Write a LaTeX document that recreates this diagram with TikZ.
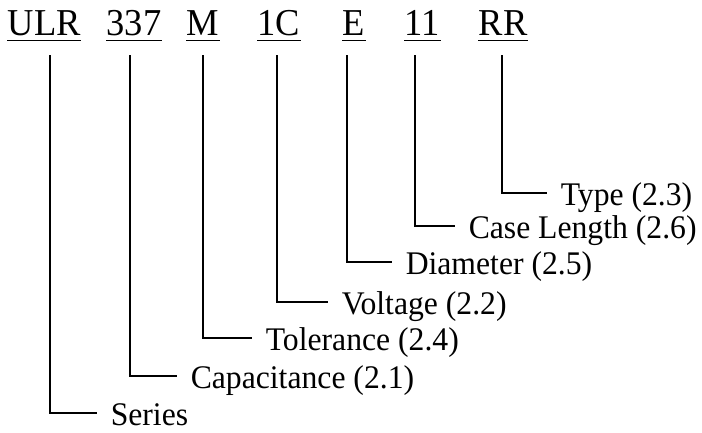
\documentclass[tikz,border=0pt]{standalone}
\usepackage{fontspec}
\setmainfont[FakeStretch=0.96]{Liberation Serif}
\begin{document}
\begin{tikzpicture}
[-,line width=1.5pt,x=1pt,y=1pt,%
  code/.style={anchor=base west,inner sep=0pt,text depth=4.5pt,font=\fontsize{38}{40}\selectfont},%
  field/.style={anchor=west,inner xsep=13pt,inner ysep=0pt,text height=24pt,text depth=0pt,font=\fontsize{33}{36}\selectfont}]
\useasboundingbox (0,0) rectangle (702,-432);
% part number
\node[code] (ulr) at (7,-35) {ULR};
\node[code] (cap) at (106,-35) {337};
\node[code] (tol) at (186,-35) {M};
\node[code] (volt) at (257,-35) {1C};
\node[code] (diam) at (342,-35) {E};
\node[code] (len) at (404,-35) {11};
\node[code] (type) at (478,-35) {RR};
\foreach \n in {ulr,cap,tol,volt,diam,len,type}
  \draw (\n.south west) -- (\n.south east);
% tick tops
\coordinate (ulr-t) at (50,-55);
\coordinate (cap-t) at (130,-55);
\coordinate (tol-t) at (203,-55);
\coordinate (volt-t) at (277,-55);
\coordinate (diam-t) at (347,-55);
\coordinate (len-t) at (415,-55);
\coordinate (type-t) at (502,-55);
% fields
\node[field] (series) at (97,-413) {Series};
\node[field] (capf) at (177,-376) {Capacitance (2.1)};
\node[field] (tolf) at (252,-338) {Tolerance (2.4)};
\node[field] (voltf) at (328,-302) {Voltage (2.2)};
\node[field] (diamf) at (392,-262) {Diameter (2.5)};
\node[field] (lenf) at (455,-226) {Case Length (2.6)};
\node[field] (typef) at (547,-193) {Type (2.3)};
\draw (ulr-t) |- (series.west);
\draw (cap-t) |- (capf.west);
\draw (tol-t) |- (tolf.west);
\draw (volt-t) |- (voltf.west);
\draw (diam-t) |- (diamf.west);
\draw (len-t) |- (lenf.west);
\draw (type-t) |- (typef.west);
\end{tikzpicture}
\end{document}
